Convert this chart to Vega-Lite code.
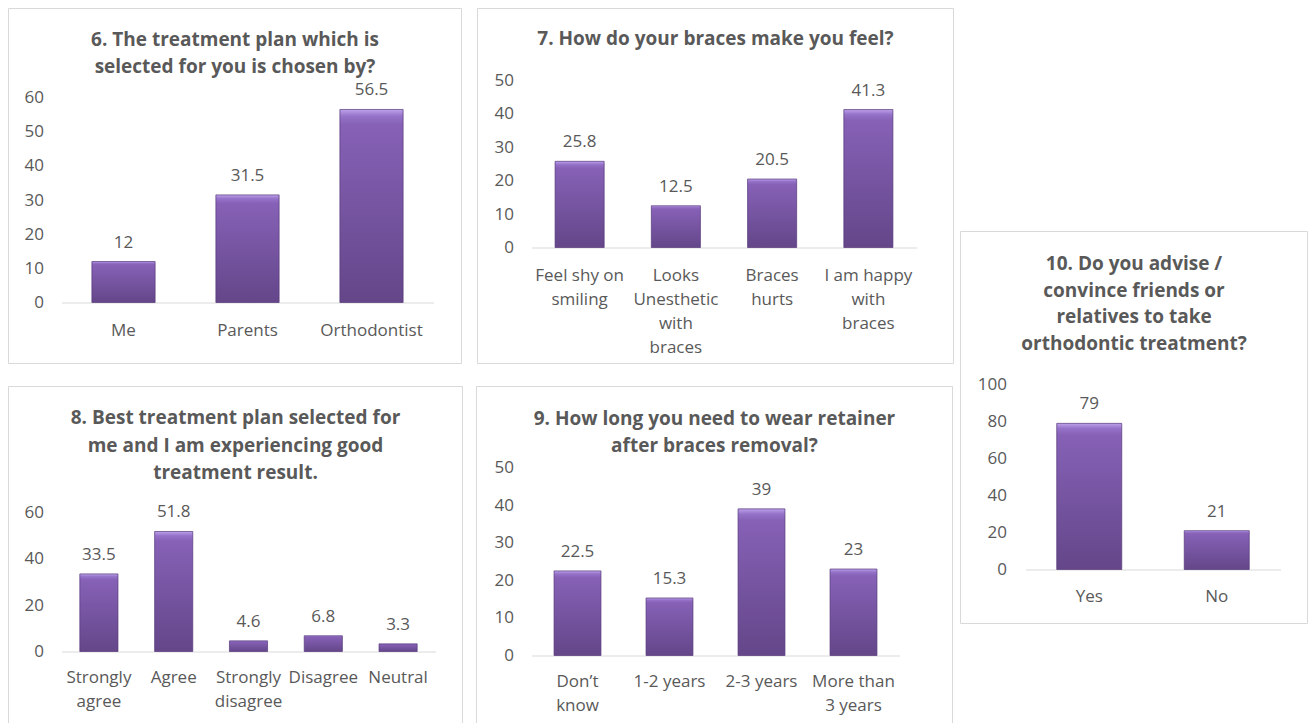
{
  "$schema": "https://vega.github.io/schema/vega-lite/v6.json",
  "padding": {"left": 7.5, "top": 7.5, "right": 0, "bottom": 0},
  "background": "white",
  "concat": [
    {
      "concat": [
        {
          "concat": [
            {
              "width": 372, "height": 222,
              "title": {"text": ["6. The treatment plan which is", "selected for you is chosen by?"], "offset": -69},
              "data": {"values": [
                {"answer": "Me", "percent": 12},
                {"answer": "Parents", "percent": 31.5},
                {"answer": "Orthodontist", "percent": 56.5}
              ]},
              "resolve": {"scale": {"x": "independent", "y": "independent"}},
              "layer": [
                {
                  "data": {"values": [{"frame": "panel"}]},
                  "mark": {"type": "rect", "filled": false, "stroke": "#d9d9d9", "strokeWidth": 1},
                  "encoding": {
                    "x": {"datum": -0.1425, "type": "quantitative", "scale": {"domain": [0, 1], "nice": false, "zero": false}, "axis": null},
                    "x2": {"datum": 1.0753},
                    "y": {"datum": -0.2748, "type": "quantitative", "scale": {"domain": [0, 1], "nice": false, "zero": false}, "axis": null},
                    "y2": {"datum": 1.3243}
                  }
                },
                {
                  "layer": [
                    {
                      "mark": {"type": "bar", "stroke": "#55387a", "strokeWidth": 1, "strokeOpacity": 0.7,
                        "color": {"gradient": "linear", "x1": 0, "y1": 0, "x2": 0, "y2": 1, "stops": [
                          {"offset": 0, "color": "#bda2ea"}, {"offset": 0.035, "color": "#9573c9"}, {"offset": 0.08, "color": "#8661b6"}, {"offset": 1, "color": "#644689"}]}},
                      "encoding": {
                        "x": {"field": "answer", "type": "nominal", "sort": null, "title": null, "scale": {"paddingInner": 0.49, "paddingOuter": 0.245}},
                        "y": {"field": "percent", "type": "quantitative", "title": null, "scale": {"domain": [0, 64.976], "nice": false}, "axis": {"values": [0, 10, 20, 30, 40, 50, 60]}}
                      }
                    },
                    {
                      "mark": {"type": "text", "dy": -14, "baseline": "alphabetic", "fontSize": 17, "font": "Open Sans", "color": "#595959"},
                      "encoding": {
                        "x": {"field": "answer", "type": "nominal", "sort": null, "title": null},
                        "y": {"field": "percent", "type": "quantitative", "title": null, "axis": {"values": [0, 10, 20, 30, 40, 50, 60]}},
                        "text": {"field": "percent", "type": "quantitative", "format": "~g"}
                      }
                    }
                  ]
                }
              ]
            },
            {
              "width": 374, "height": 139,
              "title": {"text": ["8. Best treatment plan selected for", "me and I am experiencing good", "treatment result."], "offset": -97.5, "lineHeight": 27.5},
              "data": {"values": [
                {"answer": "Strongly agree", "percent": 33.5},
                {"answer": "Agree", "percent": 51.8},
                {"answer": "Strongly disagree", "percent": 4.6},
                {"answer": "Disagree", "percent": 6.8},
                {"answer": "Neutral", "percent": 3.3}
              ]},
              "resolve": {"scale": {"x": "independent", "y": "independent"}},
              "layer": [
                {
                  "data": {"values": [{"frame": "panel"}]},
                  "mark": {"type": "rect", "filled": false, "stroke": "#d9d9d9", "strokeWidth": 1},
                  "encoding": {
                    "x": {"datum": -0.1417, "type": "quantitative", "scale": {"domain": [0, 1], "nice": false, "zero": false}, "axis": null},
                    "x2": {"datum": 1.0722},
                    "y": {"datum": -0.518, "type": "quantitative", "scale": {"domain": [0, 1], "nice": false, "zero": false}, "axis": null},
                    "y2": {"datum": 1.9065}
                  }
                },
                {
                  "layer": [
                    {
                      "mark": {"type": "bar", "stroke": "#55387a", "strokeWidth": 1, "strokeOpacity": 0.7,
                        "color": {"gradient": "linear", "x1": 0, "y1": 0, "x2": 0, "y2": 1, "stops": [
                          {"offset": 0, "color": "#bda2ea"}, {"offset": 0.035, "color": "#9573c9"}, {"offset": 0.08, "color": "#8661b6"}, {"offset": 1, "color": "#644689"}]}},
                      "encoding": {
                        "x": {"field": "answer", "type": "nominal", "sort": null, "title": null, "scale": {"paddingInner": 0.49, "paddingOuter": 0.245}, "axis": {"labelExpr": "split(datum.label, ' ')", "labelPadding": 18}},
                        "y": {"field": "percent", "type": "quantitative", "title": null, "scale": {"domain": [0, 60], "nice": false}, "axis": {"values": [0, 20, 40, 60]}}
                      }
                    },
                    {
                      "mark": {"type": "text", "dy": -14, "baseline": "alphabetic", "fontSize": 17, "font": "Open Sans", "color": "#595959"},
                      "encoding": {
                        "x": {"field": "answer", "type": "nominal", "sort": null, "title": null, "axis": {"labelExpr": "split(datum.label, ' ')", "labelPadding": 18}},
                        "y": {"field": "percent", "type": "quantitative", "title": null, "axis": {"values": [0, 20, 40, 60]}},
                        "text": {"field": "percent", "type": "quantitative", "format": "~g"}
                      }
                    }
                  ]
                }
              ]
            }
          ],
          "columns": 1,
          "align": "none",
          "spacing": 21
        },
        {
          "concat": [
            {
              "width": 385, "height": 167,
              "title": {"text": ["7. How do your braces make you feel?"], "offset": -41},
              "data": {"values": [
                {"answer": "Feel shy on smiling", "percent": 25.8},
                {"answer": "Looks Unesthetic with braces", "percent": 12.5},
                {"answer": "Braces hurts", "percent": 20.5},
                {"answer": "I am happy with braces", "percent": 41.3}
              ]},
              "resolve": {"scale": {"x": "independent", "y": "independent"}},
              "layer": [
                {
                  "data": {"values": [{"frame": "panel"}]},
                  "mark": {"type": "rect", "filled": false, "stroke": "#d9d9d9", "strokeWidth": 1},
                  "encoding": {
                    "x": {"datum": -0.1403, "type": "quantitative", "scale": {"domain": [0, 1], "nice": false, "zero": false}, "axis": null},
                    "x2": {"datum": 1.0961},
                    "y": {"datum": -0.6946, "type": "quantitative", "scale": {"domain": [0, 1], "nice": false, "zero": false}, "axis": null},
                    "y2": {"datum": 1.4311}
                  }
                },
                {
                  "layer": [
                    {
                      "mark": {"type": "bar", "stroke": "#55387a", "strokeWidth": 1, "strokeOpacity": 0.7,
                        "color": {"gradient": "linear", "x1": 0, "y1": 0, "x2": 0, "y2": 1, "stops": [
                          {"offset": 0, "color": "#bda2ea"}, {"offset": 0.035, "color": "#9573c9"}, {"offset": 0.08, "color": "#8661b6"}, {"offset": 1, "color": "#644689"}]}},
                      "encoding": {
                        "x": {"field": "answer", "type": "nominal", "sort": null, "title": null, "scale": {"paddingInner": 0.49, "paddingOuter": 0.245},
                          "axis": {"labelExpr": "datum.label == 'Feel shy on smiling' ? ['Feel shy on', 'smiling'] : datum.label == 'Looks Unesthetic with braces' ? ['Looks', 'Unesthetic', 'with', 'braces'] : datum.label == 'Braces hurts' ? ['Braces', 'hurts'] : ['I am happy', 'with', 'braces']"}},
                        "y": {"field": "percent", "type": "quantitative", "title": null, "scale": {"domain": [0, 50], "nice": false}, "axis": {"values": [0, 10, 20, 30, 40, 50]}}
                      }
                    },
                    {
                      "mark": {"type": "text", "dy": -14, "baseline": "alphabetic", "fontSize": 17, "font": "Open Sans", "color": "#595959"},
                      "encoding": {
                        "x": {"field": "answer", "type": "nominal", "sort": null, "title": null,
                          "axis": {"labelExpr": "datum.label == 'Feel shy on smiling' ? ['Feel shy on', 'smiling'] : datum.label == 'Looks Unesthetic with braces' ? ['Looks', 'Unesthetic', 'with', 'braces'] : datum.label == 'Braces hurts' ? ['Braces', 'hurts'] : ['I am happy', 'with', 'braces']"}},
                        "y": {"field": "percent", "type": "quantitative", "title": null, "axis": {"values": [0, 10, 20, 30, 40, 50]}},
                        "text": {"field": "percent", "type": "quantitative", "format": "~g"}
                      }
                    }
                  ]
                }
              ]
            },
            {
              "width": 368, "height": 188,
              "title": {"text": ["9. How long you need to wear retainer", "after braces removal?"], "offset": -70},
              "data": {"values": [
                {"answer": "Don’t know", "percent": 22.5},
                {"answer": "1-2 years", "percent": 15.3},
                {"answer": "2-3 years", "percent": 39},
                {"answer": "More than 3 years", "percent": 23}
              ]},
              "resolve": {"scale": {"x": "independent", "y": "independent"}},
              "layer": [
                {
                  "data": {"values": [{"frame": "panel"}]},
                  "mark": {"type": "rect", "filled": false, "stroke": "#d9d9d9", "strokeWidth": 1},
                  "encoding": {
                    "x": {"datum": -0.1495, "type": "quantitative", "scale": {"domain": [0, 1], "nice": false, "zero": false}, "axis": null},
                    "x2": {"datum": 1.144},
                    "y": {"datum": -0.3617, "type": "quantitative", "scale": {"domain": [0, 1], "nice": false, "zero": false}, "axis": null},
                    "y2": {"datum": 1.4309}
                  }
                },
                {
                  "layer": [
                    {
                      "mark": {"type": "bar", "stroke": "#55387a", "strokeWidth": 1, "strokeOpacity": 0.7,
                        "color": {"gradient": "linear", "x1": 0, "y1": 0, "x2": 0, "y2": 1, "stops": [
                          {"offset": 0, "color": "#bda2ea"}, {"offset": 0.035, "color": "#9573c9"}, {"offset": 0.08, "color": "#8661b6"}, {"offset": 1, "color": "#644689"}]}},
                      "encoding": {
                        "x": {"field": "answer", "type": "nominal", "sort": null, "title": null, "scale": {"paddingInner": 0.49, "paddingOuter": 0.245},
                          "axis": {"labelPadding": 18, "labelExpr": "datum.label == 'More than 3 years' ? ['More than', '3 years'] : datum.label == 'Don’t know' ? ['Don’t', 'know'] : datum.label"}},
                        "y": {"field": "percent", "type": "quantitative", "title": null, "scale": {"domain": [0, 50], "nice": false}, "axis": {"values": [0, 10, 20, 30, 40, 50]}}
                      }
                    },
                    {
                      "mark": {"type": "text", "dy": -14, "baseline": "alphabetic", "fontSize": 17, "font": "Open Sans", "color": "#595959"},
                      "encoding": {
                        "x": {"field": "answer", "type": "nominal", "sort": null, "title": null,
                          "axis": {"labelPadding": 18, "labelExpr": "datum.label == 'More than 3 years' ? ['More than', '3 years'] : datum.label == 'Don’t know' ? ['Don’t', 'know'] : datum.label"}},
                        "y": {"field": "percent", "type": "quantitative", "title": null, "axis": {"values": [0, 10, 20, 30, 40, 50]}},
                        "text": {"field": "percent", "type": "quantitative", "format": "~g"}
                      }
                    }
                  ]
                }
              ]
            }
          ],
          "columns": 1,
          "align": "none",
          "spacing": 21
        }
      ],
      "columns": 2,
      "align": "none",
      "spacing": 12
    },
    {
      "concat": [
        {
          "width": 100, "height": 149.5,
          "data": {"values": []},
          "mark": {"type": "point", "opacity": 0},
          "encoding": {}
        },
        {
          "width": 255, "height": 185,
          "title": {"text": ["10. Do you advise /", "convince friends or", "relatives to take", "orthodontic treatment?"], "offset": -123, "lineHeight": 26.7},
          "data": {"values": [
            {"answer": "Yes", "percent": 79},
            {"answer": "No", "percent": 21}
          ]},
          "resolve": {"scale": {"x": "independent", "y": "independent"}},
          "layer": [
            {
              "data": {"values": [{"frame": "panel"}]},
              "mark": {"type": "rect", "filled": false, "stroke": "#d9d9d9", "strokeWidth": 1},
              "encoding": {
                "x": {"datum": -0.2549, "type": "quantitative", "scale": {"domain": [0, 1], "nice": false, "zero": false}, "axis": null},
                "x2": {"datum": 1.1059},
                "y": {"datum": -0.2919, "type": "quantitative", "scale": {"domain": [0, 1], "nice": false, "zero": false}, "axis": null},
                "y2": {"datum": 1.827}
              }
            },
            {
              "layer": [
                {
                  "mark": {"type": "bar", "stroke": "#55387a", "strokeWidth": 1, "strokeOpacity": 0.7,
                    "color": {"gradient": "linear", "x1": 0, "y1": 0, "x2": 0, "y2": 1, "stops": [
                      {"offset": 0, "color": "#bda2ea"}, {"offset": 0.035, "color": "#9573c9"}, {"offset": 0.08, "color": "#8661b6"}, {"offset": 1, "color": "#644689"}]}},
                  "encoding": {
                    "x": {"field": "answer", "type": "nominal", "sort": null, "title": null, "scale": {"paddingInner": 0.49, "paddingOuter": 0.245}, "axis": {"labelPadding": 19}},
                    "y": {"field": "percent", "type": "quantitative", "title": null, "scale": {"domain": [0, 100], "nice": false}, "axis": {"values": [0, 20, 40, 60, 80, 100], "labelPadding": 19}}
                  }
                },
                {
                  "mark": {"type": "text", "dy": -14, "baseline": "alphabetic", "fontSize": 17, "font": "Open Sans", "color": "#595959"},
                  "encoding": {
                    "x": {"field": "answer", "type": "nominal", "sort": null, "title": null, "axis": {"labelPadding": 19}},
                    "y": {"field": "percent", "type": "quantitative", "title": null, "axis": {"values": [0, 20, 40, 60, 80, 100], "labelPadding": 19}},
                    "text": {"field": "percent", "type": "quantitative", "format": "~g"}
                  }
                }
              ]
            }
          ]
        }
      ],
      "columns": 1,
      "align": "none",
      "spacing": 0
    }
  ],
  "columns": 2,
  "align": "none",
  "spacing": 5,
  "config": {
    "view": {"stroke": null},
    "font": "Open Sans",
    "axis": {"labelFont": "Open Sans", "labelFontSize": 17, "labelColor": "#595959", "ticks": false, "gridColor": "#d9d9d9", "gridWidth": 1, "domainColor": "#d9d9d9", "domainWidth": 1},
    "axisX": {"grid": false, "domain": true, "labelAngle": 0, "labelPadding": 20, "labelLineHeight": 24, "labelOverlap": false, "labelBaseline": "top"},
    "axisY": {"grid": true, "domain": false, "labelPadding": 18, "labelOverlap": false},
    "title": {"font": "Open Sans", "fontSize": 19, "fontWeight": "bold", "color": "#595959", "anchor": "middle", "frame": "bounds", "lineHeight": 27}
  }
}
